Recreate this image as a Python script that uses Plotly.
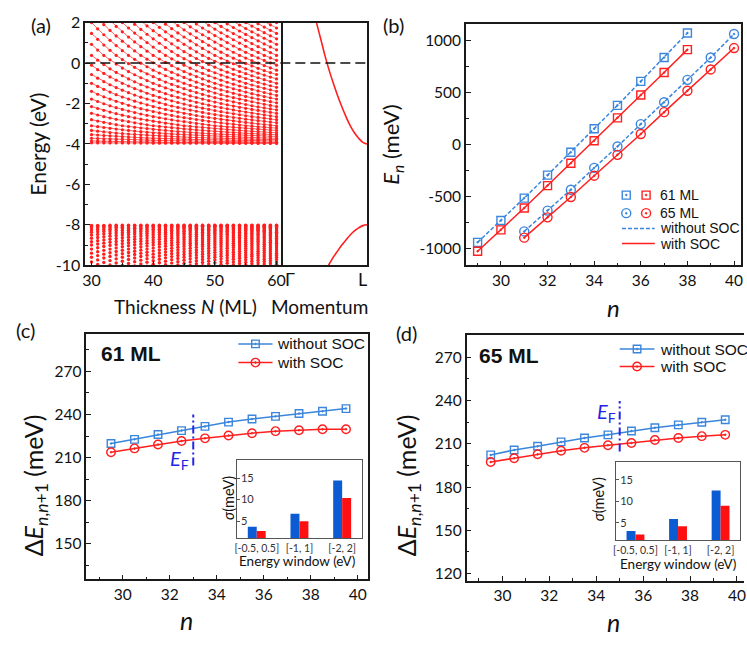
import numpy as np
import plotly.graph_objects as go

W, H = 747, 646

# ---------------- data ----------------
# (a) band dispersion read along Gamma-L (k as fraction of Gamma-L), eV
band_k_upper = [0.36, 0.40, 0.45, 0.50, 0.55, 0.60, 0.65, 0.70, 0.75, 0.80, 0.85, 0.90, 0.95, 1.00]
band_E_upper = [2.6, 2.0, 1.2, 0.38, -0.35, -1.0, -1.6, -2.15, -2.65, -3.1, -3.45, -3.72, -3.92, -4.0]
band_k_lower = [0.52, 0.55, 0.60, 0.65, 0.70, 0.75, 0.80, 0.85, 0.90, 0.95, 1.00]
band_E_lower = [-10.2, -9.95, -9.6, -9.3, -9.0, -8.75, -8.5, -8.3, -8.15, -8.04, -8.0]
thickness_N = list(range(30, 61))

# (b) E_n (meV)
n61 = [29, 30, 31, 32, 33, 34, 35, 36, 37, 38]
E61_noSOC = [-940, -730, -515, -295, -75, 150, 375, 605, 835, 1070]
E61_SOC = [-1025, -820, -610, -395, -180, 35, 255, 475, 690, 910]
n65 = [31, 32, 33, 34, 35, 36, 37, 38, 39, 40]
E65_noSOC = [-835, -635, -435, -225, -20, 195, 405, 620, 835, 1060]
E65_SOC = [-895, -700, -505, -300, -100, 100, 310, 515, 720, 925]

# (c), (d) level spacing (meV)
n_mid = [29.5, 30.5, 31.5, 32.5, 33.5, 34.5, 35.5, 36.5, 37.5, 38.5, 39.5]
dE61_noSOC = [219.8, 222.7, 226.1, 228.8, 231.7, 234.7, 236.9, 238.7, 240.7, 242.3, 244.1]
dE61_SOC = [213.7, 216.4, 219.1, 221.6, 223.4, 225.4, 227.0, 228.4, 229.0, 229.7, 229.7]
dE65_noSOC = [202.3, 205.7, 208.3, 211.3, 214.0, 216.2, 218.9, 221.1, 223.1, 224.9, 226.7]
dE65_SOC = [197.4, 200.0, 202.7, 205.2, 207.2, 209.0, 210.6, 212.6, 214.0, 215.3, 216.2]
EF_n61 = 33
EF_n65 = 35

# insets: sigma (meV)
windows = ["[-0.5, 0.5]", "[-1, 1]", "[-2, 2]"]
sigma61_noSOC = [3.7, 6.7, 14.4]
sigma61_SOC = [2.7, 5.0, 10.4]
sigma65_noSOC = [3.1, 5.9, 12.5]
sigma65_SOC = [2.3, 4.2, 9.0]

# ---------------- styles ----------------
RED = "#ff1f1f"
BLUE = "#3a86dc"
BARBLUE = "#0b5bd3"
EFBLUE = "#2424e6"
BLACK = "#1a1a1a"
TICKF = "Lato, 'Open Sans', sans-serif"
ARIAL = "'Liberation Sans', Arial, sans-serif"


def fx(p):
    return p / W


def fy(p):
    return 1 - p / H


fig = go.Figure()

# (a) quantum-well states: state j (counted from L) at k = 1 - j/N on the read band
ux, uy, lx_, ly_ = [], [], [], []
for j in range(1, max(thickness_N) + 1):
    seg_x, seg_y = [], []
    for N in thickness_N:
        if j >= N:
            continue
        k = 1 - j / N
        if k >= band_k_upper[0]:
            seg_x.append(N)
            seg_y.append(float(np.interp(k, band_k_upper, band_E_upper)))
        if k >= band_k_lower[0]:
            lx_.append(N)
            ly_.append(float(np.interp(k, band_k_lower, band_E_lower)))
    if seg_x:
        ux += seg_x + [None]
        uy += seg_y + [None]
fig.add_trace(go.Scatter(x=ux, y=uy, mode="lines+markers", xaxis="x", yaxis="y",
                         line=dict(color=RED, width=0.7), marker=dict(color=RED, size=3.2),
                         showlegend=False))
fig.add_trace(go.Scatter(x=lx_, y=ly_, mode="markers", xaxis="x", yaxis="y",
                         marker=dict(color=RED, size=3.4), showlegend=False))
fig.add_trace(go.Scatter(x=band_k_upper, y=band_E_upper, mode="lines", xaxis="x2", yaxis="y2",
                         line=dict(color=RED, width=1.6, shape="spline"), showlegend=False))
fig.add_trace(go.Scatter(x=band_k_lower, y=band_E_lower, mode="lines", xaxis="x2", yaxis="y2",
                         line=dict(color=RED, width=1.6, shape="spline"), showlegend=False))

# (b)
sq = dict(symbol="square-open-dot", size=8, line=dict(width=1.4))
ci = dict(symbol="circle-open-dot", size=9, line=dict(width=1.4))
fig.add_trace(go.Scatter(x=n61, y=E61_noSOC, mode="lines+markers", xaxis="x3", yaxis="y3",
                         line=dict(color=BLUE, width=1.5, dash="4px,2px"),
                         marker=dict(color=BLUE, **sq), showlegend=False))
fig.add_trace(go.Scatter(x=n61, y=E61_SOC, mode="lines+markers", xaxis="x3", yaxis="y3",
                         line=dict(color=RED, width=1.5),
                         marker=dict(color=RED, **sq), showlegend=False))
fig.add_trace(go.Scatter(x=n65, y=E65_noSOC, mode="lines+markers", xaxis="x3", yaxis="y3",
                         line=dict(color=BLUE, width=1.5, dash="4px,2px"),
                         marker=dict(color=BLUE, **ci), showlegend=False))
fig.add_trace(go.Scatter(x=n65, y=E65_SOC, mode="lines+markers", xaxis="x3", yaxis="y3",
                         line=dict(color=RED, width=1.5),
                         marker=dict(color=RED, **ci), showlegend=False))

# (c), (d)
sq2 = dict(symbol="square-open-dot", size=7.5, line=dict(width=1.4))
ci2 = dict(symbol="circle-open-dot", size=8.5, line=dict(width=1.4))
for (xa, ya, nos, soc) in [("x4", "y4", dE61_noSOC, dE61_SOC), ("x5", "y5", dE65_noSOC, dE65_SOC)]:
    fig.add_trace(go.Scatter(x=n_mid, y=nos, mode="lines+markers", xaxis=xa, yaxis=ya,
                             line=dict(color=BLUE, width=1.5), marker=dict(color=BLUE, **sq2),
                             showlegend=False))
    fig.add_trace(go.Scatter(x=n_mid, y=soc, mode="lines+markers", xaxis=xa, yaxis=ya,
                             line=dict(color=RED, width=1.5), marker=dict(color=RED, **ci2),
                             showlegend=False))

# insets
for (xa, ya, nos, soc) in [("x6", "y6", sigma61_noSOC, sigma61_SOC), ("x7", "y7", sigma65_noSOC, sigma65_SOC)]:
    fig.add_trace(go.Bar(x=windows, y=nos, xaxis=xa, yaxis=ya, marker=dict(color=BARBLUE, line=dict(width=0)),
                         showlegend=False))
    fig.add_trace(go.Bar(x=windows, y=soc, xaxis=xa, yaxis=ya, marker=dict(color="#ff1010", line=dict(width=0)),
                         showlegend=False))

# legend glyph markers (overlay in pixel space)
leg_pts = [
    (628.3, 190.7, BLUE, sq), (648.3, 190.7, RED, sq),
    (628.3, 209.3, BLUE, ci), (648.3, 209.3, RED, ci),
    (254.5, 344.0, BLUE, sq2), (254.5, 363.3, RED, ci2),
    (639.2, 349.3, BLUE, sq2), (639.2, 367.3, RED, ci2),
]
for (gx, gy, col, mk) in leg_pts:
    fig.add_trace(go.Scatter(x=[gx], y=[gy], mode="markers", xaxis="x8", yaxis="y8",
                             marker=dict(color=col, **mk), showlegend=False, hoverinfo="skip"))

shapes = []
annotations = []


def hline_px(x0, x1, y, color, width=1.5, dash="solid"):
    shapes.append(dict(type="line", xref="paper", yref="paper", x0=fx(x0), x1=fx(x1), y0=fy(y), y1=fy(y),
                       line=dict(color=color, width=width, dash=dash)))


def text_px(t, x, y, size, family=TICKF, xanchor="center", angle=0, color="#111", yanchor="middle"):
    annotations.append(dict(text=t, x=fx(x), y=fy(y), xref="paper", yref="paper", showarrow=False,
                            xanchor=xanchor, yanchor=yanchor, textangle=angle,
                            font=dict(size=size, family=family, color=color)))


# zero line in (a)
shapes.append(dict(type="line", xref="paper", yref="y", x0=fx(83), x1=fx(367), y0=0, y1=0,
                   line=dict(color="#111", width=1.6, dash="10px,5px")))
# E_F lines
shapes.append(dict(type="line", xref="x4", yref="y4", x0=EF_n61, x1=EF_n61, y0=204.5, y1=240,
                   line=dict(color=EFBLUE, width=2, dash="8px,3px,2px,3px")))
shapes.append(dict(type="line", xref="x5", yref="y5", x0=EF_n65, x1=EF_n65, y0=204.6, y1=239.7,
                   line=dict(color=EFBLUE, width=2, dash="8px,3px,2px,3px")))
annotations.append(dict(text="<i>E</i><sub>F</sub>", x=EF_n61, y=208.8, xref="x4", yref="y4", showarrow=False,
                        xanchor="right", xshift=-2, font=dict(size=20, family=TICKF, color=EFBLUE)))
annotations.append(dict(text="<i>E</i><sub>F</sub>", x=EF_n65, y=231.5, xref="x5", yref="y5", showarrow=False,
                        xanchor="right", xshift=-2, font=dict(size=20, family=TICKF, color=EFBLUE)))

# legend lines / texts
hline_px(624, 657, 225, BLUE, 1.5, "4px,2px")
hline_px(624, 657, 240.7, RED, 1.5)
text_px("61 ML", 660, 190.7, 14, ARIAL, "left")
text_px("65 ML", 660, 209.3, 14, ARIAL, "left")
text_px("without SOC", 660, 225, 14, ARIAL, "left")
text_px("with SOC", 660, 240.7, 14, ARIAL, "left")

hline_px(237.3, 271.7, 344.0, BLUE)
hline_px(237.3, 271.7, 363.3, RED)
text_px("without SOC", 274, 344.0, 15.5, ARIAL, "left")
text_px("with SOC", 274, 363.3, 15.5, ARIAL, "left")
hline_px(621.7, 656.7, 349.3, BLUE)
hline_px(621.7, 656.7, 367.3, RED)
text_px("without SOC", 660, 349.3, 15.5, ARIAL, "left")
text_px("with SOC", 660, 367.3, 15.5, ARIAL, "left")

text_px("<b>61 ML</b>", 96.7, 354, 21, ARIAL, "left")
text_px("<b>65 ML</b>", 478, 356, 21, ARIAL, "left")

# panel labels and titles
text_px("(a)", 38, 15, 20)
text_px("(b)", 394, 15, 20)
text_px("(c)", 23, 330, 20)
text_px("(d)", 407, 333, 20)
text_px("Energy (eV)", 35, 138, 21, angle=-90)
text_px("Thickness <i>N</i> (ML)", 184, 305, 19)
text_px("Momentum", 319, 305, 19)
text_px("Γ", 289, 277, 18)
text_px("L", 362.5, 277, 18)
text_px("<i>E</i><sub><i>n</i></sub> (meV)", 392, 139, 22, angle=-90)
text_px("<i>n</i>", 615, 307, 24)
text_px("Δ<i>E</i><sub><i>n</i>,<i>n</i>+1</sub> (meV)", 32, 490, 25, angle=-90)
text_px("<i>n</i>", 185, 628, 25)
text_px("Δ<i>E</i><sub><i>n</i>,<i>n</i>+1</sub> (meV)", 408, 490, 25, angle=-90)
text_px("<i>n</i>", 615, 631, 25)
text_px("<i>σ</i>(meV)", 228, 502.5, 14.5, angle=-90)
text_px("<i>σ</i>(meV)", 600, 504, 14.5, angle=-90)
text_px("Energy window (eV)", 296.7, 567.5, 13.5)
text_px("Energy window (eV)", 680, 570.5, 13.5)

frame = dict(showline=True, linecolor=BLACK, linewidth=1.5, mirror=True, ticks="inside",
             tickcolor=BLACK, tickwidth=1.2, ticklen=5, showgrid=False, zeroline=False,
             tickfont=dict(family=TICKF, size=15.5, color="#111"))


def ax(**kw):
    d = dict(frame)
    d.update(kw)
    return d


def ticktxt(vals):
    return [str(v) for v in vals]


ya_vals = [-10, -8, -6, -4, -2, 0, 2]
yb_vals = [-1000, -500, 0, 500, 1000]
yc_vals = [150, 180, 210, 240, 270]
yd_vals = [120, 150, 180, 210, 240, 270]
xe_vals = [30, 32, 34, 36, 38, 40]
xo_vals = [29, 31, 33, 35, 37, 39]
inset_x = dict(showline=True, linecolor="#555", linewidth=1, mirror=True, ticks="", showgrid=False,
               zeroline=False, tickangle=0, type="category",
               tickfont=dict(family=TICKF, size=10.5, color="#333"))
inset_y = dict(tickvals=[5, 10, 15], showline=True, linecolor="#555", linewidth=1, mirror=True,
               ticks="inside", ticklen=3, tickcolor="#555", ticklabelposition="inside", showgrid=False,
               zeroline=False, tickfont=dict(family=TICKF, size=11, color="#333"))

layout = dict(
    width=W, height=H, margin=dict(l=0, r=0, t=0, b=0),
    paper_bgcolor="white", plot_bgcolor="rgba(0,0,0,0)",
    showlegend=False, barmode="group", bargap=0.58, bargroupgap=0,
    xaxis=ax(domain=[fx(83), fx(282)], range=[29, 61], anchor="y", tickvals=[30, 40, 50, 60],
             tickfont=dict(family=TICKF, size=16, color="#111"),
             minor=dict(tickmode="array", tickvals=[35, 45, 55], ticks="inside", ticklen=3, tickcolor=BLACK)),
    yaxis=ax(domain=[fy(263), fy(13)], range=[-10, 2], anchor="x", tickvals=ya_vals, ticktext=ticktxt(ya_vals),
             mirror=False, tickfont=dict(family=TICKF, size=16, color="#111"),
             minor=dict(tickmode="array", tickvals=[-9, -7, -5, -3, -1, 1], ticks="inside", ticklen=3,
                        tickcolor=BLACK)),
    xaxis2=ax(domain=[fx(282), fx(367)], range=[0, 1], anchor="y2", ticks="", showticklabels=False),
    yaxis2=ax(domain=[fy(263), fy(13)], range=[-10, 2], anchor="x2", ticks="", showticklabels=False),
    xaxis3=ax(domain=[fx(466.7), fx(744)], range=[28.5, 40.3], anchor="y3", tickvals=xe_vals,
              minor=dict(tickmode="array", tickvals=xo_vals, ticks="inside", ticklen=3, tickcolor=BLACK)),
    yaxis3=ax(domain=[fy(263), fy(14)], range=[-1160, 1160], anchor="x3", tickvals=yb_vals,
              ticktext=ticktxt(yb_vals),
              minor=dict(tickmode="array", tickvals=[-750, -250, 250, 750], ticks="inside", ticklen=3,
                         tickcolor=BLACK)),
    xaxis4=ax(domain=[fx(84), fx(368.3)], range=[28.45, 40.45], anchor="y4", tickvals=xe_vals,
              minor=dict(tickmode="array", tickvals=xo_vals, ticks="inside", ticklen=3, tickcolor=BLACK)),
    yaxis4=ax(domain=[fy(586.7), fy(334)], range=[125.2, 295.9], anchor="x4", tickvals=yc_vals,
              minor=dict(tickmode="array", tickvals=[135, 165, 195, 225, 255, 285], ticks="inside", ticklen=3,
                         tickcolor=BLACK)),
    xaxis5=ax(domain=[fx(467.3), 1.0], range=[28.47, 40.3], anchor="y5", tickvals=xe_vals,
              minor=dict(tickmode="array", tickvals=xo_vals, ticks="inside", ticklen=3, tickcolor=BLACK)),
    yaxis5=ax(domain=[fy(588.3), fy(335)], range=[114.9, 285.3], anchor="x5", tickvals=yd_vals, mirror=False,
              minor=dict(tickmode="array", tickvals=[135, 165, 195, 225, 255, 285], ticks="inside", ticklen=3,
                         tickcolor=BLACK)),
    xaxis6=dict(inset_x, domain=[fx(236), fx(361.7)], range=[-0.46, 2.46], anchor="y6"),
    yaxis6=dict(inset_y, domain=[fy(544), fy(464)], range=[1.1, 19.1], anchor="x6"),
    xaxis7=dict(inset_x, domain=[fx(618.3), fx(742.7)], range=[-0.45, 2.45], anchor="y7"),
    yaxis7=dict(inset_y, domain=[fy(546), fy(466)], range=[1.05, 19.05], anchor="x7"),
    xaxis8=dict(domain=[0, 1], range=[0, W], anchor="y8", visible=False, fixedrange=True),
    yaxis8=dict(domain=[0, 1], range=[H, 0], anchor="x8", visible=False, fixedrange=True),
    shapes=shapes,
    annotations=annotations,
)
fig.update_layout(**layout)
fig.write_html("out.html", config={"displayModeBar": False},
               post_script="document.body.style.margin='0';document.body.style.overflow='hidden';")
